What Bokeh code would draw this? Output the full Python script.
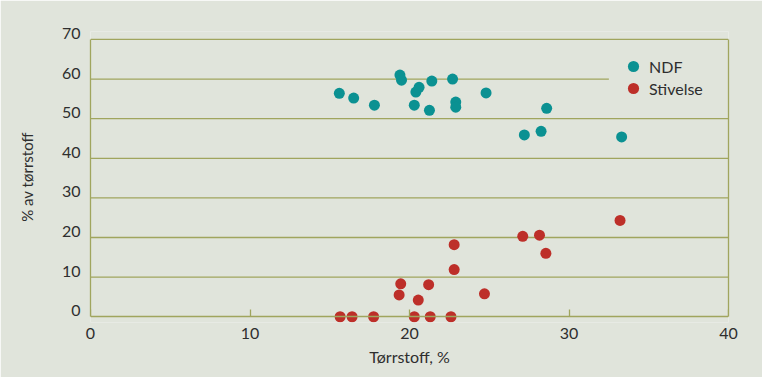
from bokeh.plotting import figure
from bokeh.models import Range1d, LinearAxis, FixedTicker, Legend, LegendItem, ColumnDataSource
from bokeh.embed import file_html
from bokeh.resources import INLINE

# Data
ndf_ts = [15.6, 16.5, 17.8, 19.4, 19.5, 20.3, 20.4, 20.6, 21.25, 21.4, 22.7, 22.9, 22.9, 24.8, 27.2, 28.25, 28.6, 33.3]
ndf = [56.4, 55.2, 53.4, 61.0, 59.7, 53.4, 56.7, 57.9, 52.1, 59.5, 60.0, 54.2, 52.9, 56.5, 45.9, 46.8, 52.6, 45.4]

stiv_ts = [15.65, 16.4, 17.75, 19.35, 19.45, 20.3, 20.55, 21.2, 21.3, 22.6, 22.8, 22.8, 24.7, 27.1, 28.15, 28.55, 33.2]
stiv = [0, 0, 0, 5.5, 8.3, 0, 4.2, 8.1, 0, 0, 11.9, 18.2, 5.8, 20.3, 20.6, 16.0, 24.3]

x_ticks = [0, 10, 20, 30, 40]
y_ticks = [0, 10, 20, 30, 40, 50, 60, 70]
grid_y = [10, 20, 30, 40, 50, 60, 70]
grid_x_end = [40, 40, 40, 40, 40, 32.5, 40]

BG = "#e0e4db"
OLIVE = "#a0a55e"
TEXT = "#2e2e2e"
TEAL = "#0b9192"
RED = "#bd2f29"
FONT = "Lato"
LW = 1.3

Y0, Y1 = -1.45, 72
p = figure(width=762, height=377, x_range=Range1d(0, 40), y_range=Range1d(Y0, Y1),
           output_backend="svg", toolbar_location=None,
           x_axis_location=None, y_axis_location=None,
           min_border_left=90, min_border_right=34, min_border_top=31, min_border_bottom=55)
p.background_fill_color = BG
p.border_fill_color = BG
p.outline_line_color = None
p.xgrid.visible = False
p.ygrid.visible = False

# grid lines
gsrc = ColumnDataSource(dict(x0=[0] * len(grid_y), x1=grid_x_end, y=grid_y))
p.segment(x0="x0", y0="y", x1="x1", y1="y", source=gsrc, line_color=OLIVE, line_width=LW)

# left axis: its labels sit just above the grid lines (shifted range)
d = 1.5
p.extra_y_ranges = {"lab": Range1d(Y0 - d, Y1 - d)}
yaxis = LinearAxis(y_range_name="lab", ticker=FixedTicker(ticks=y_ticks), bounds=(y_ticks[0] - d, y_ticks[-1] - d))
yaxis.axis_line_color = OLIVE
yaxis.axis_line_width = LW
yaxis.major_tick_in = 0
yaxis.major_tick_out = 0
yaxis.minor_tick_line_color = None
yaxis.major_label_standoff = 10
yaxis.major_label_text_font = FONT
yaxis.major_label_text_font_size = "16px"
yaxis.major_label_text_color = TEXT
yaxis.axis_label = "% av tørrstoff"
yaxis.axis_label_text_font = FONT
yaxis.axis_label_text_font_style = "normal"
yaxis.axis_label_text_font_size = "15px"
yaxis.axis_label_text_color = TEXT
yaxis.axis_label_standoff = 23
p.add_layout(yaxis, "left")

raxis = LinearAxis(ticker=FixedTicker(ticks=[]), bounds=(0, 70))
raxis.axis_line_color = OLIVE
raxis.axis_line_width = LW
raxis.minor_tick_line_color = None
p.add_layout(raxis, "right")

# bottom axis: labels + title
xlab = LinearAxis(ticker=FixedTicker(ticks=x_ticks))
xlab.axis_line_color = None
xlab.major_tick_line_color = None
xlab.minor_tick_line_color = None
xlab.major_label_standoff = -1
xlab.major_label_text_font = FONT
xlab.major_label_text_font_size = "16px"
xlab.major_label_text_color = TEXT
xlab.axis_label = "Tørrstoff, %"
xlab.axis_label_text_font = FONT
xlab.axis_label_text_font_style = "normal"
xlab.axis_label_text_font_size = "16px"
xlab.axis_label_text_color = TEXT
xlab.axis_label_standoff = 5
p.add_layout(xlab, "below")

# bottom axis line at y = 0 with inward ticks
xaxis = LinearAxis(ticker=FixedTicker(ticks=x_ticks), bounds=(0, 40), fixed_location=0)
xaxis.axis_line_color = OLIVE
xaxis.axis_line_width = LW
xaxis.major_tick_line_color = OLIVE
xaxis.major_tick_line_width = LW
xaxis.major_tick_in = 7
xaxis.major_tick_out = 0
xaxis.minor_tick_line_color = None
xaxis.major_label_overrides = {t: "" for t in x_ticks}
p.add_layout(xaxis, "below")

r1 = p.scatter(ndf_ts, ndf, size=11, fill_color=TEAL, line_color=None)
r2 = p.scatter(stiv_ts, stiv, size=11, fill_color=RED, line_color=None)


def make_legend(label, renderer, loc):
    lg = Legend(items=[LegendItem(label=label, renderers=[renderer])], location=loc)
    lg.background_fill_alpha = 0
    lg.border_line_alpha = 0
    lg.padding = 0
    lg.margin = 0
    lg.spacing = 0
    lg.label_height = 28
    lg.glyph_height = 28
    lg.glyph_width = 28
    lg.label_standoff = 2
    lg.label_text_font = FONT
    lg.label_text_font_size = "16px"
    lg.label_text_color = TEXT
    return lg


p.add_layout(make_legend("NDF", r1, (529, 242)), "center")
p.add_layout(make_legend("Stivelse", r2, (529, 220)), "center")

open("out.html", "w").write(file_html(p, INLINE))
